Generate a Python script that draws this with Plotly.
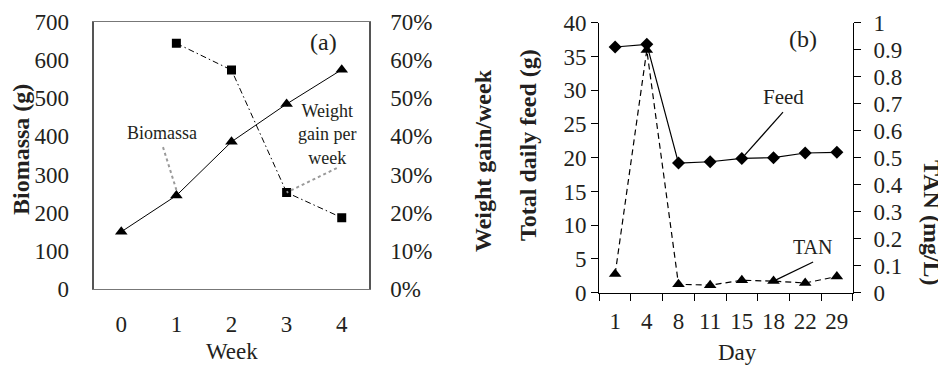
import plotly.graph_objects as go

# ---- Data: panel (a) ----
weeks = [0, 1, 2, 3, 4]
biomass = [150, 245, 386, 485, 575]
gain_weeks = [1, 2, 3, 4]
weight_gain = [0.644, 0.574, 0.253, 0.187]

# ---- Data: panel (b) ----
days = ["1", "4", "8", "11", "15", "18", "22", "29"]
feed = [36.4, 36.8, 19.2, 19.4, 19.9, 20.0, 20.7, 20.8]
tan = [0.069, 0.899, 0.031, 0.028, 0.046, 0.043, 0.036, 0.060]

FONT = "Liberation Serif, Times New Roman, serif"
TXT = "#231f20"
W, H = 946, 366
OFF = 8  # page body margin offset

def px_x(p):
    return (p - OFF) / W

def px_y(p):
    return 1 - (p - OFF) / H

fig = go.Figure()

fig.add_trace(go.Scatter(
    x=weeks, y=biomass, mode="lines+markers", name="Biomassa",
    line=dict(color="black", width=1),
    marker=dict(symbol="triangle-up", size=11, color="black"),
    xaxis="x", yaxis="y"))
fig.add_trace(go.Scatter(
    x=gain_weeks, y=weight_gain, mode="lines+markers", name="Weight gain per week",
    line=dict(color="black", width=1, dash="6px,3px,1.5px,3px"),
    marker=dict(symbol="square", size=9, color="black"),
    xaxis="x", yaxis="y2"))
fig.add_trace(go.Scatter(
    x=days, y=feed, mode="lines+markers", name="Feed",
    line=dict(color="black", width=1.2),
    marker=dict(symbol="diamond", size=10, color="black"),
    xaxis="x2", yaxis="y3"))
fig.add_trace(go.Scatter(
    x=days, y=tan, mode="lines+markers", name="TAN",
    line=dict(color="black", width=1.2, dash="6px,4px"),
    marker=dict(symbol="triangle-up", size=11, color="black"),
    xaxis="x2", yaxis="y4"))

tickfont = dict(family=FONT, size=23, color=TXT)

fig.update_layout(
    width=W, height=H,
    margin=dict(l=0, r=0, t=0, b=0),
    paper_bgcolor="white", plot_bgcolor="white",
    showlegend=False,
    font=dict(family=FONT, color=TXT),
    xaxis=dict(domain=[px_x(93.7), px_x(369.3)], anchor="y", range=[-0.5, 4.5],
               tickvals=weeks, showgrid=False, zeroline=False, automargin=False,
               showline=True, linecolor="#777", linewidth=1, mirror=True,
               ticks="", ticklabelstandoff=14, tickangle=0, tickfont=tickfont),
    yaxis=dict(domain=[px_y(289), px_y(22)], anchor="x", range=[0, 700], dtick=100,
               showgrid=False, zeroline=False, showline=True, linecolor="#555",
               linewidth=2, mirror=True, ticks="", ticklabelstandoff=18,
               automargin=False, tickfont=tickfont),
    yaxis2=dict(overlaying="y", side="right", anchor="x", range=[0, 0.7], dtick=0.1,
                tickformat=".0%", showgrid=False, zeroline=False, showline=False,
                ticks="", ticklabelstandoff=20, automargin=False, tickfont=tickfont),
    xaxis2=dict(domain=[px_x(599.3), px_x(852.7)], anchor="y3", type="category",
                range=[-0.5, 7.5], showgrid=False, zeroline=False, automargin=False,
                showline=True, linecolor="black", linewidth=1.2,
                ticks="outside", tickson="boundaries", ticklen=7, tickcolor="black",
                tickwidth=1.2, tickangle=0, ticklabelstandoff=8, tickfont=tickfont),
    yaxis3=dict(domain=[px_y(292.7), px_y(22.7)], anchor="x2", range=[0, 40], dtick=5,
                showgrid=False, zeroline=False, showline=True, linecolor="black",
                linewidth=1.2, ticks="outside", ticklen=7, tickcolor="black",
                tickwidth=1.2, automargin=False, tickfont=tickfont),
    yaxis4=dict(overlaying="y3", side="right", anchor="x2", range=[0, 1], dtick=0.1,
                showgrid=False, zeroline=False, showline=True, linecolor="black",
                linewidth=1.2, ticks="outside", ticklen=7, tickcolor="black",
                tickwidth=1.2, ticklabelstandoff=8, automargin=False, tickfont=tickfont),
)

# leader lines
shapes = [
    dict(type="line", xref="x", yref="y", x0=0.757, y0=372,
         x1=weeks[1], y1=biomass[1] + 15,
         line=dict(color="#9a9a9a", width=2, dash="dot")),
    dict(type="line", xref="x", yref="y2", x0=3.91, y0=0.317,
         x1=gain_weeks[2], y1=weight_gain[2],
         line=dict(color="#9a9a9a", width=2, dash="dot")),
    dict(type="line", xref="x2", yref="y3", x0=5.30, y0=26.75,
         x1=days.index("15"), y1=feed[days.index("15")],
         line=dict(color="black", width=1.2)),
    dict(type="line", xref="x2", yref="y4", x0=6.25, y0=0.114,
         x1=days.index("18"), y1=tan[days.index("18")],
         line=dict(color="black", width=1.2)),
]
fig.update_layout(shapes=shapes)

def txt(text, x, y, size, xref="paper", yref="paper", bold=False, angle=0):
    return dict(text=f"<b>{text}</b>" if bold else text, x=x, y=y, xref=xref, yref=yref,
                showarrow=False, textangle=angle, xanchor="center", yanchor="middle",
                font=dict(family=FONT, size=size, color=TXT))

annotations = [
    txt("(a)", 3.67, 648, 24, "x", "y"),
    txt("Biomassa", 0.74, 409, 18, "x", "y"),
    txt("Weight<br>gain per<br>week", 3.73, 405, 18, "x", "y"),
    txt("(b)", 5.93, 37.6, 24, "x2", "y3"),
    txt("Feed", 5.30, 29.0, 21, "x2", "y3"),
    txt("TAN", 6.25, 6.77, 20, "x2", "y3"),
    txt("Biomassa (g)", px_x(21), px_y(150), 24, bold=True, angle=-90),
    txt("Weight gain/week", px_x(483), px_y(161), 24, bold=True, angle=-90),
    txt("Total daily feed (g)", px_x(528), px_y(145), 24, bold=True, angle=-90),
    txt("TAN (mg/L)", px_x(932), px_y(223), 24, bold=True, angle=90),
    txt("Week", px_x(232), px_y(351), 23),
    txt("Day", px_x(737), px_y(352), 23),
]
fig.update_layout(annotations=annotations)

fig.write_html("out.html")
